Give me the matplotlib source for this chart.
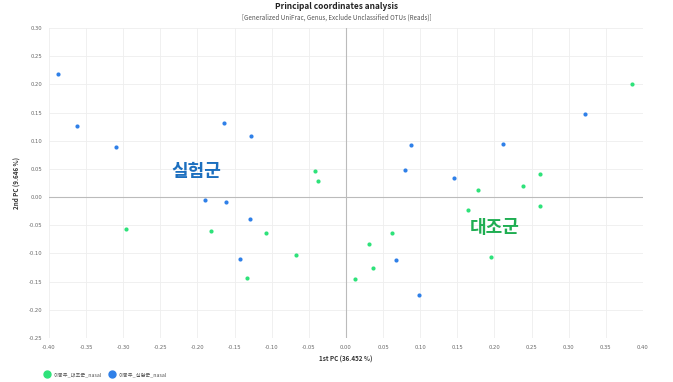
import matplotlib
matplotlib.use("Agg")
import matplotlib.pyplot as plt
from matplotlib.lines import Line2D

# ── Data ────────────────────────────────────────────────────────────────────
control_x = [0.385, 0.0305, 0.012, 0.036, 0.062, 0.178, 0.164, 0.195, 0.238, 0.261, 0.261,
             -0.296, -0.182, -0.108, -0.133, -0.068, -0.042, -0.038]
control_y = [0.201, -0.083, -0.1445, -0.1255, -0.063, 0.013, -0.0225, -0.107, 0.020, 0.041, -0.015,
             -0.057, -0.060, -0.0645, -0.143, -0.1025, 0.0456, 0.029]

treat_x = [-0.3875, -0.362, -0.310, -0.164, -0.1275, -0.190, -0.161, -0.129, -0.143,
           0.3225, 0.088, 0.2115, 0.080, 0.1455, 0.0673, 0.099]
treat_y = [0.219, 0.1255, 0.089, 0.132, 0.109, -0.005, -0.009, -0.038, -0.110,
           0.147, 0.093, 0.0947, 0.048, 0.033, -0.1125, -0.1735]

x_ticks = [-0.40, -0.35, -0.30, -0.25, -0.20, -0.15, -0.10, -0.05, 0.00,
           0.05, 0.10, 0.15, 0.20, 0.25, 0.30, 0.35, 0.40]
y_ticks = [-0.25, -0.20, -0.15, -0.10, -0.05, 0.00, 0.05, 0.10, 0.15, 0.20, 0.25, 0.30]

labels = ["이봉주_대조군_nasal", "이봉주_실험군_nasal"]

GREEN = "#2ee27a"
BLUE = "#2f80e8"
GREEN_TXT = "#1fae52"
BLUE_TXT = "#1c6fbf"
TICK = "#666666"

plt.rcParams["font.family"] = ["Noto Sans CJK KR", "DejaVu Sans"]

fig = plt.figure(figsize=(6.73, 3.82), dpi=100)
ax = fig.add_axes([0.0728, 0.1152, 0.8826, 0.8115])

ax.scatter(control_x, control_y, s=9, color=GREEN, zorder=3, linewidths=0)
ax.scatter(treat_x, treat_y, s=9, color=BLUE, zorder=3, linewidths=0)

ax.set_xlim(-0.40, 0.40)
ax.set_ylim(-0.25, 0.30)
ax.set_xticks(x_ticks)
ax.set_yticks(y_ticks)
ax.set_xticklabels([f"{v:.2f}" for v in x_ticks], family="DejaVu Sans")
ax.set_yticklabels([f"{v:.2f}" for v in y_ticks], family="DejaVu Sans")
ax.tick_params(length=0, labelsize=3.8, colors=TICK, pad=5)
ax.grid(color="#eeeeee", linewidth=0.6)
ax.set_axisbelow(True)
for s in ax.spines.values():
    s.set_visible(False)
ax.axhline(0, color="#bbbbbb", linewidth=0.8, zorder=1)
ax.axvline(0, color="#bbbbbb", linewidth=0.8, zorder=1)

ax.set_xlabel("1st PC (36.452 %)", fontsize=4.5, fontweight="bold", color="#333333", labelpad=4)
ax.set_ylabel("2nd PC (9.646 %)", fontsize=4.5, fontweight="bold", color="#333333", labelpad=6)

ax.text(-0.201, 0.046, "실험군", fontsize=13, fontweight="bold", color=BLUE_TXT,
        ha="center", va="center")
ax.text(0.200, -0.054, "대조군", fontsize=13, fontweight="bold", color=GREEN_TXT,
        ha="center", va="center")

fig.text(0.5, 0.983, "Principal coordinates analysis", fontsize=6, fontweight="bold",
         ha="center", va="center", color="#222222")
fig.text(0.5, 0.955, "[Generalized UniFrac, Genus, Exclude Unclassified OTUs (Reads)]",
         fontsize=4.5, ha="center", va="center", color="#555555")

handles = [Line2D([], [], marker="o", linestyle="", markersize=5, color=GREEN),
           Line2D([], [], marker="o", linestyle="", markersize=5, color=BLUE)]
fig.legend(handles, labels, loc="lower left", bbox_to_anchor=(0.055, 0.0), ncol=2,
           frameon=False, fontsize=3.8, handletextpad=0.2, columnspacing=1.0,
           labelcolor="#555555")

fig.savefig("out.png", dpi=100)
